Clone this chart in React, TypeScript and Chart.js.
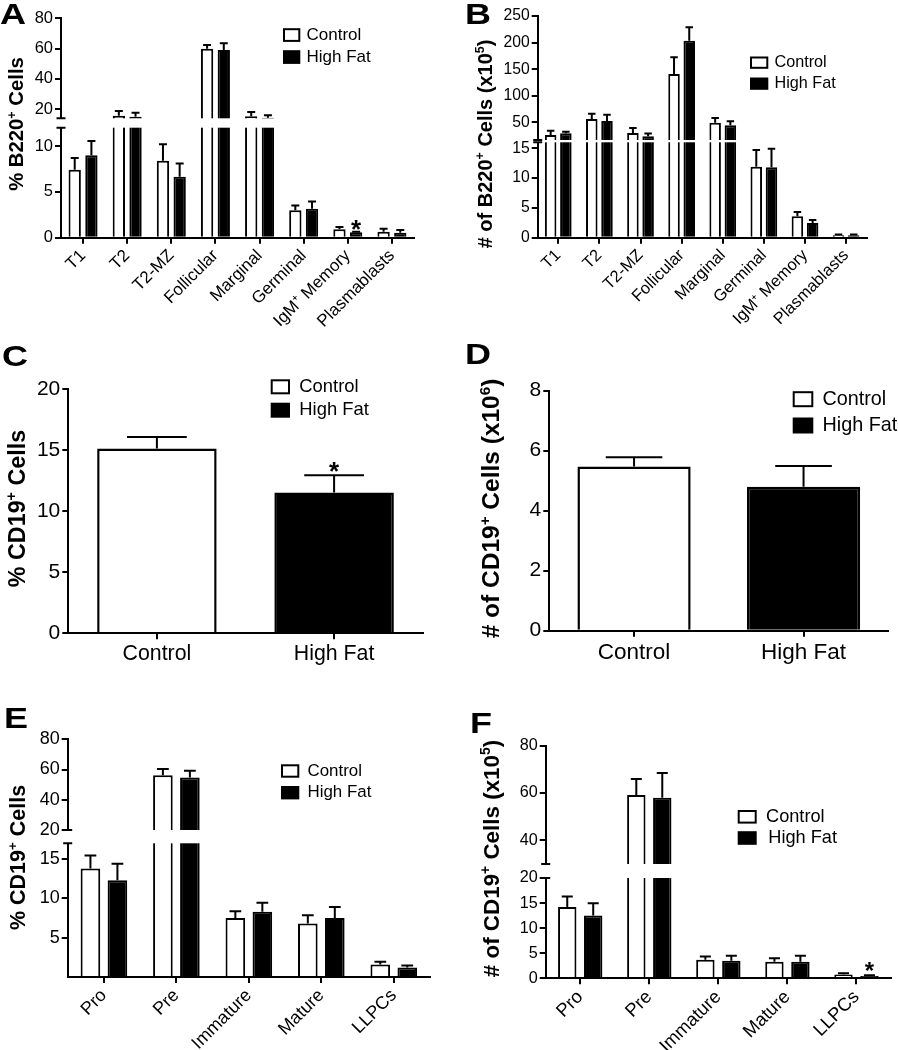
import React, { useEffect, useRef } from 'react';
import { Chart, registerables, LinearScale } from 'chart.js';

const FONT = '"Liberation Sans", Arial, Helvetica, sans-serif';
const PAGE_W = 898;
const PAGE_H = 1050;
const YW = 50;

// ---------------- DATA ----------------
// Panel A: % B220+ cells
const b220Labels = ['T1', 'T2', 'T2-MZ', 'Follicular', 'Marginal', 'Germinal', 'IgM⁺ Memory', 'Plasmablasts'];
const pctB220Control = [7.4, 15.7, 8.4, 59.9, 15.3, 3.0, 0.92, 0.65];
const pctB220ControlErr = [1.3, 3.2, 1.8, 2.5, 2.9, 0.5, 0.25, 0.33];
const pctB220HighFat = [9.0, 15.0, 6.65, 59.1, 14.4, 3.16, 0.59, 0.55];
const pctB220HighFatErr = [1.56, 2.6, 1.45, 4.4, 1.6, 0.8, 0.07, 0.3];
const pctB220Ticks = [0, 5, 10, 20, 40, 60, 80];

// Panel B: # of B220+ cells (x10^5)
const numB220Control = [26.5, 56.6, 30.3, 141, 49.6, 11.9, 3.6, 0.4];
const numB220ControlErr = [8.1, 9.9, 9.4, 31.4, 8.8, 2.8, 0.7, 0.15];
const numB220HighFat = [29.7, 52.8, 24.1, 203.6, 44.7, 11.8, 2.47, 0.4];
const numB220HighFatErr = [3.0, 11.8, 4.9, 25.2, 7.6, 3.1, 0.5, 0.15];
const numB220Ticks = [0, 5, 10, 15, 50, 100, 150, 200, 250];

// Panels C, D: total CD19+
const groupLabels = ['Control', 'High Fat'];
const pctCD19Control = [15.15, null];
const pctCD19ControlErr = [0.95, null];
const pctCD19HighFat = [null, 11.55];
const pctCD19HighFatErr = [null, 1.4];
const pctCD19Ticks = [0, 5, 10, 15, 20];

const numCD19Control = [5.47, null];
const numCD19ControlErr = [0.31, null];
const numCD19HighFat = [null, 4.8];
const numCD19HighFatErr = [null, 0.69];
const numCD19Ticks = [0, 2, 4, 6, 8];

// Panel E: % CD19+ subsets
const bmLabels = ['Pro', 'Pre', 'Immature', 'Mature', 'LLPCs'];
const pctBMControl = [13.8, 56.2, 7.5, 6.8, 1.6];
const pctBMControlErr = [1.65, 4.1, 0.85, 1.05, 0.35];
const pctBMHighFat = [12.3, 54.8, 8.3, 7.5, 1.2];
const pctBMHighFatErr = [2.1, 4.4, 1.15, 1.4, 0.25];
const pctBMTicks = [5, 10, 15, 20, 40, 60, 80];

// Panel F: # of CD19+ subsets (x10^5)
const numBMControl = [14.2, 59.2, 3.7, 3.3, 0.75];
const numBMControlErr = [2.1, 6.7, 0.65, 0.7, 0.25];
const numBMHighFat = [12.5, 58.0, 3.5, 3.3, 0.45];
const numBMHighFatErr = [2.45, 10.5, 1.0, 1.2, 0.15];
const numBMTicks = [0, 5, 10, 15, 20, 40, 60, 80];

const seriesNames = ['Control', 'High Fat'];

// ---------------- BROKEN AXIS SCALE ----------------
class BrokenScale extends LinearScale {
  static id = 'broken';
  getPixelForValue(value: any): number {
    const b = (this as any)._brk;
    if (value === null || value === undefined) return NaN;
    if (!b) return super.getPixelForValue(value);
    const H = this.bottom - this.top;
    const lowH = H * b.lowFrac;
    const gapH = H * b.gapFrac;
    const upH = H - lowH - gapH;
    const min = this.min;
    const max = this.max;
    if (value <= b.lowMax) return this.bottom - ((value - min) / (b.lowMax - min)) * lowH;
    if (value >= b.highMin) return this.bottom - lowH - gapH - ((value - b.highMin) / (max - b.highMin)) * upH;
    return this.bottom - lowH - ((value - b.lowMax) / (b.highMin - b.lowMax)) * gapH;
  }
  getValueForPixel(pixel: number): number {
    const b = (this as any)._brk;
    if (!b) return super.getValueForPixel(pixel);
    const H = this.bottom - this.top;
    const lowH = H * b.lowFrac;
    const gapH = H * b.gapFrac;
    const upH = H - lowH - gapH;
    const d = this.bottom - pixel;
    if (d <= lowH) return this.min + (d / lowH) * (b.lowMax - this.min);
    if (d >= lowH + gapH) return b.highMin + ((d - lowH - gapH) / upH) * (this.max - b.highMin);
    return b.lowMax + ((d - lowH) / gapH) * (b.highMin - b.lowMax);
  }
}

Chart.register(...registerables, BrokenScale as any);

type Part = { t: string; sup?: boolean };

interface PanelDef {
  key: string;
  labels: string[];
  control: (number | null)[];
  controlErr: (number | null)[];
  highFat: (number | null)[];
  highFatErr: (number | null)[];
  yMin: number;
  yMax: number;
  yTicks: number[];
  brk?: { lowMax: number; highMin: number; lowFrac: number; gapFrac: number };
  area: { l: number; t: number; r: number; b: number };
  tickSize: number;
  xSize: number;
  rotate: boolean;
  xPad: number;
  catPct: number;
  barPct: number;
  skipNull: boolean;
  borderW: number;
  errW: number;
  capFrac: number;
  title: { parts: Part[]; x: number; y: number; size: number };
  legend: { x: number; w: number; h: number; ys: number[]; tx: number[]; size: number };
  stars: { ds: number; idx: number }[];
  starSize: number;
  starGap: number;
}

const panels: PanelDef[] = [
  {
    key: 'A',
    labels: b220Labels,
    control: pctB220Control,
    controlErr: pctB220ControlErr,
    highFat: pctB220HighFat,
    highFatErr: pctB220HighFatErr,
    yMin: 0,
    yMax: 80,
    yTicks: pctB220Ticks,
    brk: { lowMax: 12, highMin: 14, lowFrac: 0.5014, gapFrac: 0.0428 },
    area: { l: 61, t: 18.3, r: 414, b: 237.7 },
    tickSize: 16.5,
    xSize: 17,
    rotate: true,
    xPad: 2,
    catPct: 0.757,
    barPct: 0.737,
    skipNull: false,
    borderW: 2,
    errW: 2,
    capFrac: 0.65,
    title: { parts: [{ t: '% B220' }, { t: '+', sup: true }, { t: ' Cells' }], x: 16, y: 124, size: 20.3 },
    legend: { x: 283, w: 17.3, h: 13.7, ys: [28.2, 50.2], tx: [306.5, 306.5], size: 17 },
    stars: [{ ds: 1, idx: 6 }],
    starSize: 26,
    starGap: 8,
  },
  {
    key: 'B',
    labels: b220Labels,
    control: numB220Control,
    controlErr: numB220ControlErr,
    highFat: numB220HighFat,
    highFatErr: numB220HighFatErr,
    yMin: 0,
    yMax: 250,
    yTicks: numB220Ticks,
    brk: { lowMax: 16, highMin: 17, lowFrac: 0.4303, gapFrac: 0.0104 },
    area: { l: 537.7, t: 16, r: 866.7, b: 237.7 },
    tickSize: 15.7,
    xSize: 16.5,
    rotate: true,
    xPad: 2,
    catPct: 0.74,
    barPct: 0.757,
    skipNull: false,
    borderW: 2,
    errW: 2,
    capFrac: 0.65,
    title: {
      parts: [{ t: '# of B220' }, { t: '+', sup: true }, { t: ' Cells (x10' }, { t: '5', sup: true }, { t: ')' }],
      x: 484.5,
      y: 144,
      size: 20,
    },
    legend: { x: 750, w: 18.3, h: 12.3, ys: [56.5, 77.5], tx: [774.5, 774.5], size: 16.2 },
    stars: [],
    starSize: 26,
    starGap: 8,
  },
  {
    key: 'C',
    labels: groupLabels,
    control: pctCD19Control,
    controlErr: pctCD19ControlErr,
    highFat: pctCD19HighFat,
    highFatErr: pctCD19HighFatErr,
    yMin: 0,
    yMax: 20,
    yTicks: pctCD19Ticks,
    area: { l: 68.3, t: 389.3, r: 422.7, b: 633.3 },
    tickSize: 21,
    xSize: 21.3,
    rotate: false,
    xPad: 2,
    catPct: 0.8,
    barPct: 0.843,
    skipNull: true,
    borderW: 2.5,
    errW: 2,
    capFrac: 0.5,
    title: { parts: [{ t: '% CD19' }, { t: '+', sup: true }, { t: ' Cells' }], x: 17, y: 508.5, size: 23.3 },
    legend: { x: 270.7, w: 19.3, h: 15, ys: [379.3, 402.7], tx: [299.3, 299.3], size: 18.4 },
    stars: [{ ds: 1, idx: 1 }],
    starSize: 26,
    starGap: 10,
  },
  {
    key: 'D',
    labels: groupLabels,
    control: numCD19Control,
    controlErr: numCD19ControlErr,
    highFat: numCD19HighFat,
    highFatErr: numCD19HighFatErr,
    yMin: 0,
    yMax: 8,
    yTicks: numCD19Ticks,
    area: { l: 549.3, t: 390.7, r: 888.3, b: 630.7 },
    tickSize: 21,
    xSize: 22.5,
    rotate: false,
    xPad: 2.5,
    catPct: 0.8,
    barPct: 0.835,
    skipNull: true,
    borderW: 2.5,
    errW: 2,
    capFrac: 0.5,
    title: {
      parts: [{ t: '# of CD19' }, { t: '+', sup: true }, { t: ' Cells (x10' }, { t: '6', sup: true }, { t: ')' }],
      x: 490.5,
      y: 508.5,
      size: 24.5,
    },
    legend: { x: 792.7, w: 20.6, h: 16, ys: [391.2, 417.5], tx: [822.5, 822.5], size: 19.8 },
    stars: [],
    starSize: 26,
    starGap: 10,
  },
  {
    key: 'E',
    labels: bmLabels,
    control: pctBMControl,
    controlErr: pctBMControlErr,
    highFat: pctBMHighFat,
    highFatErr: pctBMHighFatErr,
    yMin: 0,
    yMax: 80,
    yTicks: pctBMTicks,
    brk: { lowMax: 17, highMin: 20, lowFrac: 0.5625, gapFrac: 0.056 },
    area: { l: 67.7, t: 739.3, r: 430, b: 977 },
    tickSize: 18,
    xSize: 18,
    rotate: true,
    xPad: 2,
    catPct: 0.745,
    barPct: 0.726,
    skipNull: false,
    borderW: 2,
    errW: 2,
    capFrac: 0.6,
    title: { parts: [{ t: '% CD19' }, { t: '+', sup: true }, { t: ' Cells' }], x: 17, y: 857.5, size: 21.5 },
    legend: { x: 281, w: 18.3, h: 13.4, ys: [764.3, 786], tx: [307.5, 307.5], size: 16.9 },
    stars: [],
    starSize: 26,
    starGap: 8,
  },
  {
    key: 'F',
    labels: bmLabels,
    control: numBMControl,
    controlErr: numBMControlErr,
    highFat: numBMHighFat,
    highFatErr: numBMHighFatErr,
    yMin: 0,
    yMax: 80,
    yTicks: numBMTicks,
    brk: { lowMax: 20, highMin: 30, lowFrac: 0.4312, gapFrac: 0.0602 },
    area: { l: 545.7, t: 745.7, r: 891, b: 978.3 },
    tickSize: 16.2,
    xSize: 18.5,
    rotate: true,
    xPad: 2,
    catPct: 0.752,
    barPct: 0.708,
    skipNull: false,
    borderW: 2,
    errW: 2,
    capFrac: 0.6,
    title: {
      parts: [{ t: '# of CD19' }, { t: '+', sup: true }, { t: ' Cells (x10' }, { t: '5', sup: true }, { t: ')' }],
      x: 490.5,
      y: 858.5,
      size: 22.4,
    },
    legend: { x: 737.7, w: 19, h: 13.6, ys: [810, 831.2], tx: [766, 768.3], size: 18.2 },
    stars: [{ ds: 1, idx: 4 }],
    starSize: 24,
    starGap: 10,
  },
];

const panelLetters = [
  { t: 'A', x: 0, y: -1 },
  { t: 'B', x: 465, y: -0.6 },
  { t: 'C', x: 2, y: 341 },
  { t: 'D', x: 465, y: 339 },
  { t: 'E', x: 4, y: 703 },
  { t: 'F', x: 470, y: 708 },
];

// ---------------- DRAW HELPERS ----------------
function drawRich(ctx: CanvasRenderingContext2D, parts: Part[], cx: number, cy: number, size: number) {
  ctx.save();
  ctx.translate(cx, cy);
  ctx.rotate(-Math.PI / 2);
  const main = `bold ${size}px ${FONT}`;
  const small = `bold ${(size * 0.62).toFixed(1)}px ${FONT}`;
  const ws = parts.map((p) => {
    ctx.font = p.sup ? small : main;
    return ctx.measureText(p.t).width;
  });
  const total = ws.reduce((a, b) => a + b, 0);
  let x = -total / 2;
  const base = size * 0.358;
  ctx.fillStyle = '#000';
  ctx.textAlign = 'left';
  ctx.textBaseline = 'alphabetic';
  parts.forEach((p, i) => {
    ctx.font = p.sup ? small : main;
    ctx.fillText(p.t, x, p.sup ? base - size * 0.38 : base);
    x += ws[i];
  });
  ctx.restore();
}

function makeDecor(p: PanelDef) {
  return {
    id: 'decor' + p.key,
    afterDraw(chart: any) {
      const ctx: CanvasRenderingContext2D = chart.ctx;
      const ys = chart.scales.y;
      const area = chart.chartArea;
      ctx.save();
      // error bars
      chart.data.datasets.forEach((ds: any, di: number) => {
        const meta = chart.getDatasetMeta(di);
        meta.data.forEach((el: any, i: number) => {
          const v = ds.data[i];
          const e = ds.errors[i];
          if (v === null || v === undefined || e === null || e === undefined) return;
          const yV = ys.getPixelForValue(v);
          const yT = ys.getPixelForValue(v + e);
          const half = (el.width * p.capFrac) / 2;
          ctx.strokeStyle = '#000';
          ctx.lineWidth = p.errW;
          ctx.lineCap = 'butt';
          ctx.beginPath();
          ctx.moveTo(el.x, yV);
          ctx.lineTo(el.x, yT);
          ctx.moveTo(el.x - half, yT);
          ctx.lineTo(el.x + half, yT);
          ctx.stroke();
        });
      });
      // axis break
      if (p.brk) {
        const yUp = ys.getPixelForValue(p.brk.highMin);
        const yLow = ys.getPixelForValue(p.brk.lowMax);
        ctx.fillStyle = '#fff';
        ctx.fillRect(area.left - 1.5, yUp, area.right - area.left + 3, yLow - yUp);
        ctx.strokeStyle = '#000';
        ctx.lineWidth = 2;
        ctx.beginPath();
        ctx.moveTo(area.left - 4.5, yUp);
        ctx.lineTo(area.left + 4.5, yUp);
        ctx.moveTo(area.left - 4.5, yLow);
        ctx.lineTo(area.left + 4.5, yLow);
        ctx.stroke();
      }
      // significance stars
      p.stars.forEach((s) => {
        const ds: any = chart.data.datasets[s.ds];
        const el: any = chart.getDatasetMeta(s.ds).data[s.idx];
        const top = ys.getPixelForValue(ds.data[s.idx] + ds.errors[s.idx]);
        const cy = top - p.starGap;
        ctx.fillStyle = '#000';
        ctx.font = `bold ${p.starSize}px ${FONT}`;
        ctx.textAlign = 'center';
        ctx.textBaseline = 'alphabetic';
        ctx.fillText('*', el.x, cy + p.starSize * 0.57);
      });
      // legend
      const L = p.legend;
      ctx.fillStyle = '#fff';
      ctx.fillRect(L.x, L.ys[0], L.w, L.h);
      ctx.strokeStyle = '#000';
      ctx.lineWidth = 2;
      ctx.strokeRect(L.x + 1, L.ys[0] + 1, L.w - 2, L.h - 2);
      ctx.fillStyle = '#000';
      ctx.fillRect(L.x, L.ys[1], L.w, L.h);
      ctx.font = `${L.size}px ${FONT}`;
      ctx.textAlign = 'left';
      ctx.textBaseline = 'middle';
      seriesNames.forEach((name, i) => {
        ctx.fillText(name, L.tx[i], L.ys[i] + L.h / 2);
      });
      // y-axis title
      drawRich(ctx, p.title.parts, p.title.x, p.title.y, p.title.size);
      ctx.restore();
    },
  };
}

function Panel({ p }: { p: PanelDef }) {
  const ref = useRef<HTMLCanvasElement | null>(null);
  useEffect(() => {
    if (!ref.current) return;
    const a = p.area;
    const xh = Math.min(100, PAGE_H - a.b);
    const chart = new Chart(ref.current, {
      type: 'bar',
      data: {
        labels: p.labels,
        datasets: [
          {
            label: seriesNames[0],
            data: p.control,
            errors: p.controlErr,
            backgroundColor: '#fff',
            borderColor: '#000',
            borderWidth: p.borderW,
            borderSkipped: 'start',
            categoryPercentage: p.catPct,
            barPercentage: p.barPct,
            skipNull: p.skipNull,
          } as any,
          {
            label: seriesNames[1],
            data: p.highFat,
            errors: p.highFatErr,
            backgroundColor: '#000',
            borderColor: '#000',
            borderWidth: p.borderW,
            borderSkipped: 'start',
            categoryPercentage: p.catPct,
            barPercentage: p.barPct,
            skipNull: p.skipNull,
          } as any,
        ],
      },
      options: {
        responsive: false,
        animation: false,
        devicePixelRatio: 1,
        events: [],
        layout: {
          padding: { left: a.l - YW, top: a.t, right: PAGE_W - a.r, bottom: PAGE_H - a.b - xh },
        },
        plugins: { legend: { display: false }, tooltip: { enabled: false } },
        scales: {
          x: {
            type: 'category',
            offset: true,
            afterFit: (s: any) => {
              s.height = xh;
            },
            ticks: {
              color: '#000',
              font: { family: FONT, size: p.xSize },
              autoSkip: false,
              maxRotation: p.rotate ? 45 : 0,
              minRotation: p.rotate ? 45 : 0,
              padding: p.xPad,
            },
            grid: { offset: false, drawOnChartArea: false, drawTicks: true, tickLength: 6, color: '#000', lineWidth: 2, z: 1 },
            border: { display: true, color: '#000', width: 2, z: 1 },
          },
          y: {
            type: p.brk ? 'broken' : 'linear',
            min: p.yMin,
            max: p.yMax,
            bounds: 'data',
            beforeUpdate: (s: any) => {
              s._brk = p.brk || null;
            },
            afterBuildTicks: (s: any) => {
              s.ticks = p.yTicks.map((v) => ({ value: v }));
            },
            afterFit: (s: any) => {
              s.width = YW;
            },
            ticks: {
              color: '#000',
              font: { family: FONT, size: p.tickSize },
              padding: 2,
              callback: (v: any) => String(v),
            },
            grid: { drawOnChartArea: false, drawTicks: true, tickLength: 6, color: '#000', lineWidth: 2, z: 1 },
            border: { display: true, color: '#000', width: 2, z: 1 },
          } as any,
        },
      } as any,
      plugins: [makeDecor(p)],
    });
    return () => chart.destroy();
  }, [p]);
  return (
    <canvas
      ref={ref}
      width={PAGE_W}
      height={PAGE_H}
      style={{ position: 'absolute', left: 0, top: 0, width: PAGE_W, height: PAGE_H }}
    />
  );
}

export default function App() {
  return (
    <div
      style={{
        position: 'absolute',
        left: 0,
        top: 0,
        width: PAGE_W,
        height: PAGE_H,
        background: '#fff',
        overflow: 'hidden',
      }}
    >
      {panels.map((p) => (
        <Panel key={p.key} p={p} />
      ))}
      {panelLetters.map((l) => (
        <div
          key={l.t}
          style={{
            position: 'absolute',
            left: l.x,
            top: l.y,
            fontFamily: FONT,
            fontWeight: 'bold',
            fontSize: 30,
            lineHeight: '30px',
            color: '#000',
            transform: 'scaleX(1.2)',
            transformOrigin: 'left top',
          }}
        >
          {l.t}
        </div>
      ))}
    </div>
  );
}
